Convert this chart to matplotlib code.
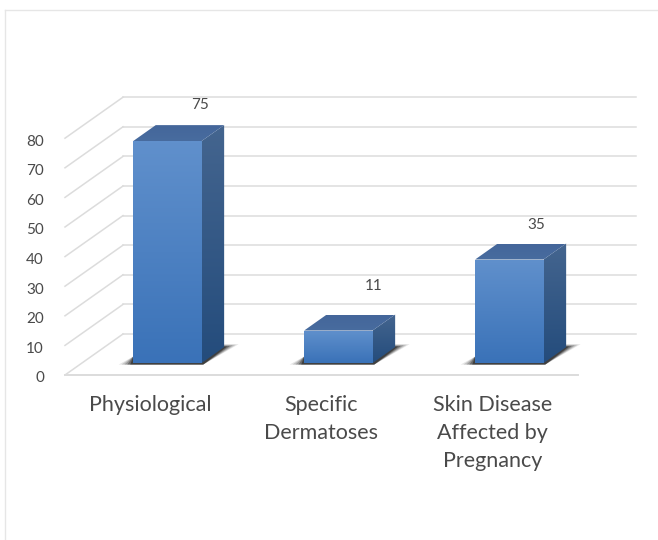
import numpy as np
import matplotlib
matplotlib.use('Agg')
import matplotlib.pyplot as plt
from matplotlib.patches import Polygon

plt.rcParams['font.family'] = ['Lato', 'DejaVu Sans']

categories = ['Physiological', 'Specific\nDermatoses', 'Skin Disease\nAffected by\nPregnancy']
values = [75, 11, 35]
y_ticks = [0, 10, 20, 30, 40, 50, 60, 70, 80]

W, H = 658, 540
# oblique depth of the floor, in data units
DX = 58 / 171
DY = 41 / 2.96
BAR_W = 0.4
D0, D1 = 0.29, 0.68
TEXT = '#4a4a4a'
GRID = '#dcdcdc'

fig = plt.figure(figsize=(W / 100, H / 100), dpi=100)
fig.patch.set_facecolor('white')
ax = fig.add_axes([65 / W, 1 - 375 / H, 513 / W, 236.8 / H])
ax.set_xlim(-0.5, 2.5)
ax.set_ylim(0, 80)
ax.axis('off')


def proj(x, v, d):
    return x + d * DX, v + d * DY


def grad_face(pts, top, bottom, z):
    # vertical gradient clipped to a polygon
    pts = np.array(pts)
    poly = Polygon(pts, closed=True, transform=ax.transData, fc='none', ec='none')
    ax.add_patch(poly)
    poly.set_clip_on(False)
    c = np.linspace(0, 1, 64)[:, None, None]
    img = (1 - c) * np.array(top)[None, None, :] + c * np.array(bottom)[None, None, :]
    im = ax.imshow(img, extent=[pts[:, 0].min(), pts[:, 0].max(), pts[:, 1].min(), pts[:, 1].max()],
                   aspect='auto', zorder=z, interpolation='bilinear')
    im.set_clip_path(poly)
    im.set_clip_box(fig.bbox)


def rgb(h):
    return matplotlib.colors.to_rgb(h)


# grid on back wall, side wall and floor
for t in y_ticks:
    xb, yb = proj(-0.5, t, 1)
    xe, _ = proj(2.5, t, 1)
    ax.plot([-0.5, xb], [t, yb], color=GRID, lw=1.1, clip_on=False, zorder=1)
    ax.plot([xb, xe], [yb, yb], color=GRID, lw=1.1, clip_on=False, zorder=1)
ax.plot([-0.5, 2.5], [0, 0], color=GRID, lw=1.4, clip_on=False, zorder=1)

# bars
for i, v in enumerate(values):
    l, r = i - BAR_W / 2, i + BAR_W / 2
    fl, fb = proj(l, 0, D0)
    fr, ft = proj(r, v, D0)
    bl, _ = proj(l, 0, D1)
    br, bb = proj(r, 0, D1)
    _, bt = proj(r, v, D1)

    # soft shadow on the floor, built up in layers
    for k, a in zip([1.0, 0.8, 0.6, 0.4, 0.2], [0.1, 0.15, 0.2, 0.3, 0.4]):
        ax.add_patch(Polygon([[fl - 0.085 * k, fb - 0.5], [fr + 0.01, fb - 0.5],
                              [br + 0.085 * k, bb + 1.0 * k], [br, bb + 1.0 * k],
                              [fl, fb + 2.2]],
                             closed=True, fc='black', ec='none', alpha=a, zorder=2, clip_on=False))

    grad_face([[fl, fb], [fr, fb], [fr, ft], [fl, ft]], rgb('#6090cc'), rgb('#3a72b8'), 4)
    grad_face([[fr, fb], [br, bb], [br, bt], [fr, ft]], rgb('#44658f'), rgb('#244c7c'), 4)
    grad_face([[fl, ft], [fr, ft], [br, bt], [bl, bt]], rgb('#44669a'), rgb('#486c9f'), 4)
ax.set_xlim(-0.5, 2.5)
ax.set_ylim(0, 80)

# tick labels
for t in y_ticks:
    ax.annotate(str(t), xy=(-0.5, t), xytext=(-21, -3.5), textcoords='offset pixels',
                ha='right', va='center', fontsize=11, color=TEXT, annotation_clip=False)

for i, c in enumerate(categories):
    ax.annotate(c, xy=(i, 0), xytext=(0, -20), textcoords='offset pixels', ha='center', va='top',
                fontsize=15.5, color=TEXT, linespacing=1.5, annotation_clip=False)

# value labels sit above and behind each bar
label_shift = [(33, 36), (35, 45), (27, 35)]
for i, v in enumerate(values):
    x, y = proj(i + BAR_W / 2 - 0.2, v, D0)
    ax.annotate(str(v), xy=(x, y), xytext=label_shift[i], textcoords='offset pixels',
                ha='center', va='center', fontsize=11, color=TEXT, annotation_clip=False)

# chart frame
fig.add_artist(plt.Line2D([5 / W, 5 / W], [0, 1 - 10 / H], color='#e6e6e6', lw=1))
fig.add_artist(plt.Line2D([5 / W, 1], [1 - 10 / H, 1 - 10 / H], color='#e6e6e6', lw=1))

fig.savefig('out.png', dpi=100)
